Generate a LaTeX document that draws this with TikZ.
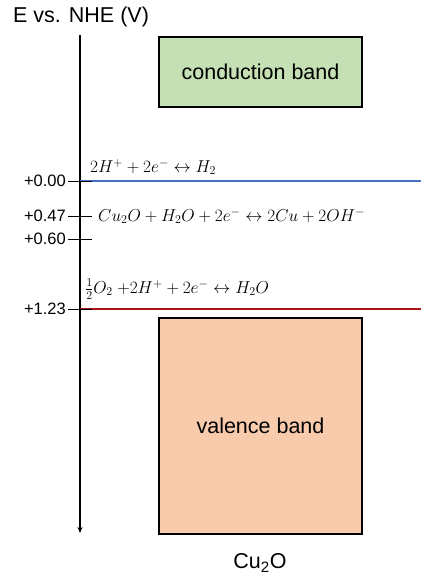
\documentclass[tikz,border=0pt]{standalone}
\usepackage[no-math]{fontspec}
\setmainfont{Liberation Sans}
\usetikzlibrary{arrows.meta,positioning}
\definecolor{cbgreen}{RGB}{197,224,180}
\definecolor{vborange}{RGB}{248,203,173}
\definecolor{hline}{RGB}{68,114,196}
\definecolor{oline}{RGB}{170,20,20}

\begin{document}
\begin{tikzpicture}[x=1pt,y=-1pt,every node/.style={font=\fontsize{16.5}{19}\selectfont,inner sep=0pt},
  band/.style={draw,line width=1.4pt,minimum width=203pt,minimum height=#1,font=\fontsize{21.5}{24}\selectfont},
  eqn/.style={anchor=west,font=\fontsize{16.4}{20}\selectfont}]
\useasboundingbox (0,0) rectangle (421,579);
\coordinate (ax0) at (80,35);
\coordinate (ax1) at (80,533);
\draw[line width=1.2pt,-{Stealth[length=6pt,width=5pt]}] (ax0)--(ax1);
% potentials
\coordinate (h0) at (80,181);
\coordinate (h1) at (80,216);
\coordinate (h2) at (80,239);
\coordinate (h3) at (80,309);
\coordinate (e0) at (421,181);
\coordinate (e3) at (421,309);
\draw[line width=1.2pt,hline] (h0)--(e0);
\draw[line width=1.2pt,oline] (h3)--(e3);
\foreach \t/\l in {h0/+0.00,h1/+0.47,h2/+0.60,h3/+1.23}{
  \draw[line width=1pt] ([xshift=-12pt]\t)--([xshift=12pt]\t);
  \node[anchor=east] (l\t) at ([xshift=-14pt]\t) {\l};
}
% bands
\node[band=70pt,fill=cbgreen] (cb) at (260.5,72) {conduction band};
\node[band=216pt,fill=vborange] (vb) at (260.5,426) {valence band};
\node (mat) at (260,563) {\fontsize{21.5}{24}\selectfont Cu\textsubscript{2}O};
\node[anchor=west,font=\fontsize{21.5}{24}\selectfont] (ttl) at (13,17) {E vs. NHE (V)};
% reactions
\node[eqn] (r1) at (90,167) {$2H^+ + 2e^-\leftrightarrow H_2$};
\node[eqn] (r2) at (98,216) {$Cu_2O + H_2O + 2e^-\leftrightarrow 2Cu + 2OH^-$};
\node[eqn] (r3) at (85,289) {$\frac{1}{2}O_2\ {+}2H^+ + 2e^-\leftrightarrow H_2O$};
\end{tikzpicture}
\end{document}
